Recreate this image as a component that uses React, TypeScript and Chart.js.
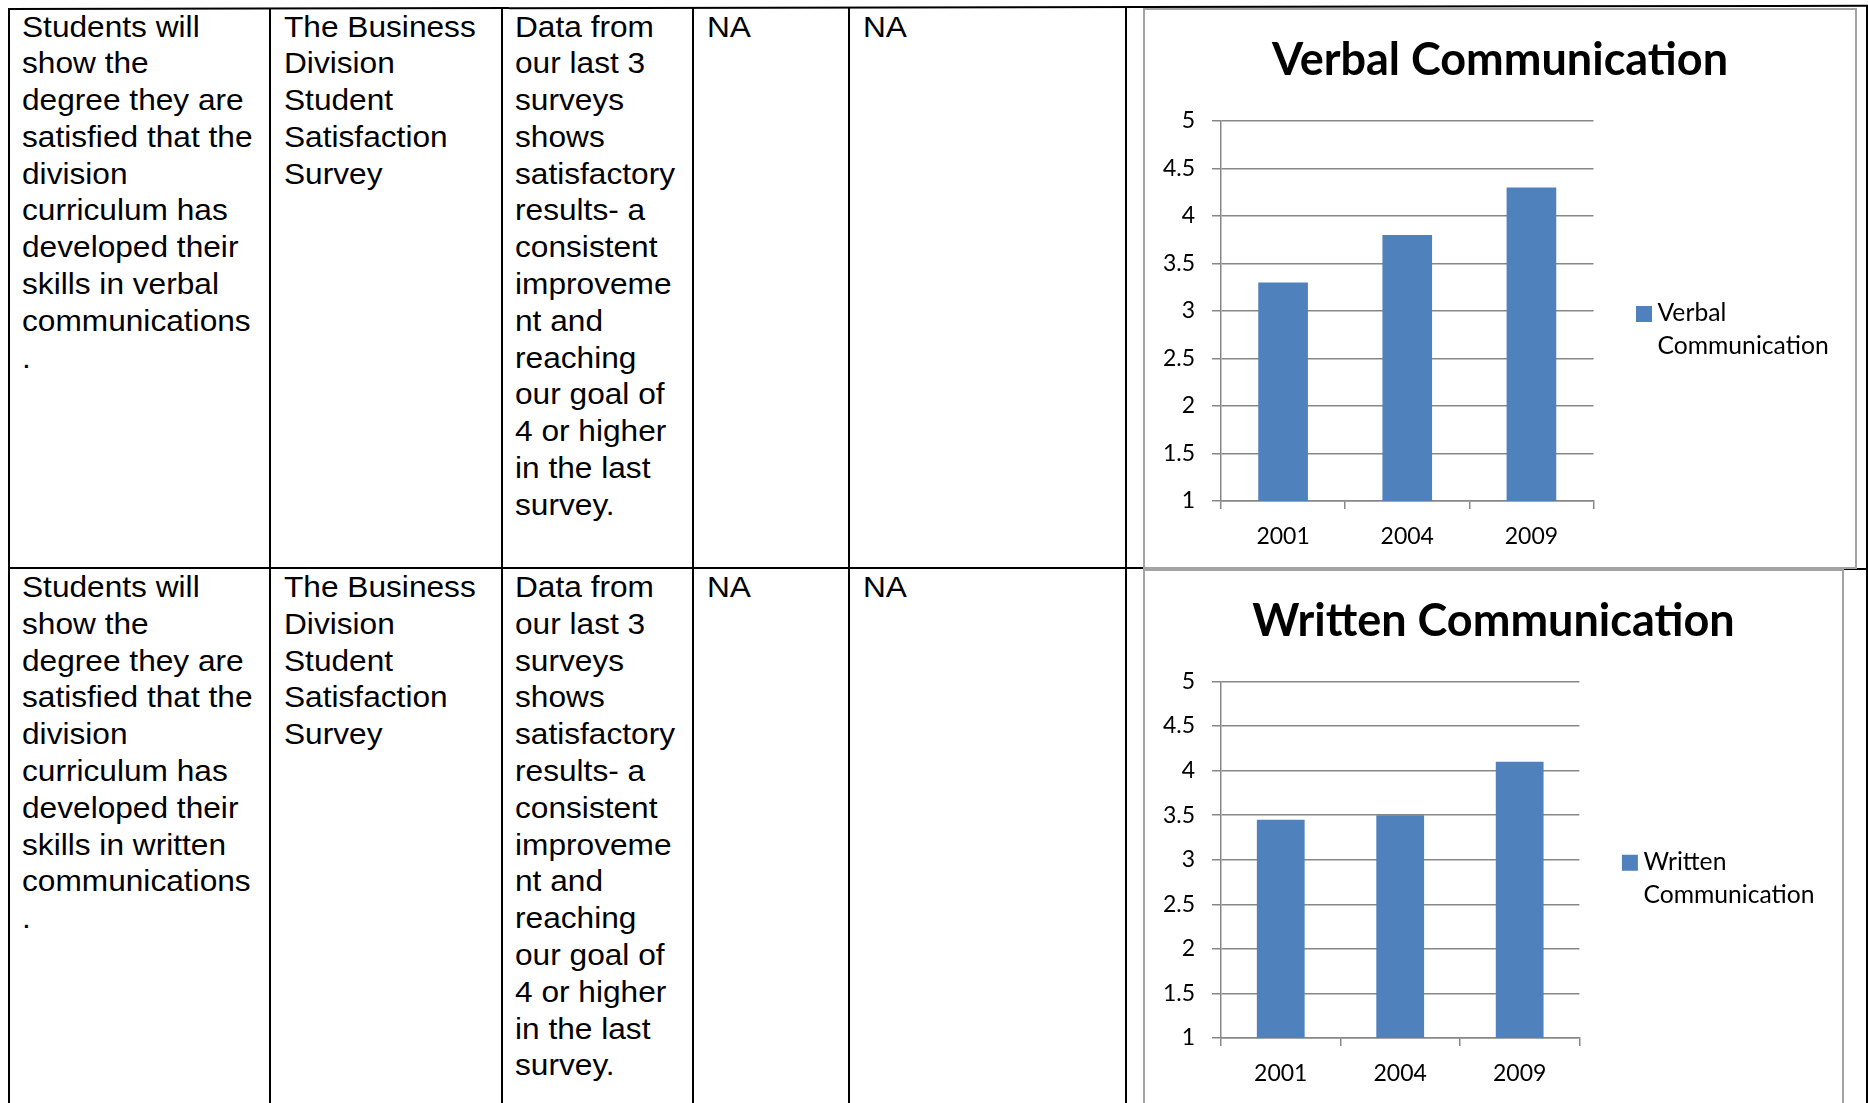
import React, { useEffect, useRef } from "react";
import { Chart, registerables } from "chart.js";

Chart.register(...registerables);

// ---------- chart data ----------
const years = ["2001", "2004", "2009"];
const verbalValues = [3.3, 3.8, 4.3];
const writtenValues = [3.45, 3.5, 4.1];
const yMin = 1;
const yMax = 5;
const yStep = 0.5;
const verbalTitle = "Verbal Communication";
const writtenTitle = "Written Communication";
const verbalLegend = ["Verbal", "Communication"];
const writtenLegend = ["Written", "Communication"];

// ---------- table text ----------
const outcomeVerbal = [
  "Students will",
  "show the",
  "degree they are",
  "satisfied that the",
  "division",
  "curriculum has",
  "developed their",
  "skills in verbal",
  "communications",
  ".",
];
const outcomeWritten = [
  "Students will",
  "show the",
  "degree they are",
  "satisfied that the",
  "division",
  "curriculum has",
  "developed their",
  "skills in written",
  "communications",
  ".",
];
const measureLines = ["The Business", "Division", "Student", "Satisfaction", "Survey"];
const resultLines = [
  "Data from",
  "our last 3",
  "surveys",
  "shows",
  "satisfactory",
  "results- a",
  "consistent",
  "improveme",
  "nt and",
  "reaching",
  "our goal of",
  "4 or higher",
  "in the last",
  "survey.",
];
const naLines = ["NA"];

const BAR = "#4F81BD";
const GRID = "#878787";
const FONT = "Lato, 'Open Sans', sans-serif";
const TITLE_SIZE = 45;
const TICK_SIZE = 23;

type ChartProps = {
  title: string;
  values: number[];
  legend: string[];
  width: number;
  height: number;
  titleCenter: number;
  plotTop: number;
  rightPad: number;
  xAxisHeight: number;
};

function BarChart(p: ChartProps) {
  const ref = useRef<HTMLCanvasElement | null>(null);
  useEffect(() => {
    if (!ref.current) return;
    const legendLines = p.legend;
    const lh = TITLE_SIZE * 1.2;
    const padTop = p.titleCenter - lh / 2;
    const padBottom = p.plotTop - padTop - lh;
    const sideLegend = {
      id: "sideLegend",
      afterDraw(chart: any) {
        const { ctx, chartArea } = chart;
        const x = chartArea.right + 42.5;
        const cy = (chartArea.top + chartArea.bottom) / 2 + 3;
        ctx.save();
        ctx.fillStyle = BAR;
        ctx.fillRect(x, cy - 8, 16, 16);
        ctx.fillStyle = "#000";
        ctx.font = `24.7px ${FONT}`;
        ctx.textAlign = "left";
        ctx.textBaseline = "middle";
        legendLines.forEach((l, i) => ctx.fillText(l, x + 21.5, cy - 1 + i * 33.5));
        ctx.restore();
      },
    };
    const chart = new Chart(ref.current, {
      type: "bar",
      data: {
        labels: years,
        datasets: [
          {
            label: legendLines.join(" "),
            data: p.values,
            backgroundColor: BAR,
            borderWidth: 0,
            barPercentage: 0.4,
            categoryPercentage: 1,
            yAxisID: "y",
          },
        ],
      },
      options: {
        animation: false,
        responsive: false,
        devicePixelRatio: 1,
        layout: { padding: 0 },
        plugins: {
          legend: { display: false },
          tooltip: { enabled: false },
          title: {
            display: true,
            text: p.title,
            color: "#000",
            align: "center",
            font: { family: FONT, weight: "bold", size: TITLE_SIZE, lineHeight: 1.2 },
            padding: { top: padTop, bottom: padBottom },
          },
        },
        scales: {
          x: {
            offset: true,
            grid: {
              offset: true,
              drawOnChartArea: false,
              drawTicks: true,
              tickLength: 8,
              color: GRID,
              lineWidth: 1.5,
            },
            border: { display: true, color: GRID, width: 1.5 },
            ticks: { font: { family: FONT, size: TICK_SIZE }, color: "#000", padding: 13.5 },
            afterFit: (scale: any) => {
              scale.height = p.xAxisHeight;
            },
          },
          y: {
            position: "left",
            min: yMin,
            max: yMax,
            ticks: {
              stepSize: yStep,
              font: { family: FONT, size: TICK_SIZE },
              color: "#000",
              padding: 17,
              callback: (v: any) => String(Number(v)),
            },
            grid: { color: GRID, lineWidth: 1.5, tickLength: 9, drawTicks: true },
            border: { display: true, color: GRID, width: 1.5 },
            afterFit: (scale: any) => {
              scale.width = 76;
            },
          },
          legendSpace: {
            type: "linear",
            position: "right",
            display: true,
            grid: { display: false, drawTicks: false },
            border: { display: false },
            ticks: { display: false },
            afterFit: (scale: any) => {
              scale.width = p.rightPad;
            },
          },
        },
      },
      plugins: [sideLegend],
    });
    return () => chart.destroy();
  }, []);
  return <canvas ref={ref} width={p.width} height={p.height} style={{ display: "block" }} />;
}

const textStyle: React.CSSProperties = {
  position: "absolute",
  fontFamily: "'Liberation Sans', Arial, sans-serif",
  fontSize: 30,
  lineHeight: "36.8px",
  color: "#000",
  whiteSpace: "nowrap",
  transform: "scaleX(1.055)",
  transformOrigin: "left top",
};

function Cell({ x, y, lines }: { x: number; y: number; lines: string[] }) {
  return (
    <div style={{ ...textStyle, left: x, top: y }}>
      {lines.map((l, i) => (
        <div key={i}>{l}</div>
      ))}
    </div>
  );
}

function VLine({ x, y1, y2, color = "#000", w = 2 }: { x: number; y1: number; y2: number; color?: string; w?: number }) {
  return <div style={{ position: "absolute", left: x, top: y1, width: w, height: y2 - y1, background: color }} />;
}
function HLine({ y, x1, x2, color = "#000", h = 2 }: { y: number; x1: number; x2: number; color?: string; h?: number }) {
  return <div style={{ position: "absolute", left: x1, top: y, width: x2 - x1, height: h, background: color }} />;
}

const colX = [8, 269, 501, 692, 848, 1125];
const textX = [22, 283.6, 515, 706.5, 862.5];

export default function App() {
  const rows = [
    { top: 8.5, outcome: outcomeVerbal },
    { top: 569, outcome: outcomeWritten },
  ];
  return (
    <div
      style={{
        position: "fixed",
        left: 0,
        top: 0,
        width: 1868,
        height: 1103,
        overflow: "hidden",
        background: "#fff",
      }}
    >
      <div
        style={{
          position: "absolute",
          left: 8,
          top: 8,
          width: 1860,
          height: 2,
          background: "#000",
          transform: "rotate(-0.1deg)",
          transformOrigin: "left top",
        }}
      />
      {colX.map((x, i) => (
        <VLine key={i} x={x} y1={8} y2={1110} />
      ))}
      <VLine x={1866} y1={5} y2={1110} />
      <HLine y={567} x1={8} x2={1143} />
      <HLine y={568} x1={1843} x2={1868} />

      {rows.map((r, ri) => (
        <React.Fragment key={ri}>
          <Cell x={textX[0]} y={r.top} lines={r.outcome} />
          <Cell x={textX[1]} y={r.top} lines={measureLines} />
          <Cell x={textX[2]} y={r.top} lines={resultLines} />
          <Cell x={textX[3]} y={r.top} lines={naLines} />
          <Cell x={textX[4]} y={r.top} lines={naLines} />
        </React.Fragment>
      ))}

      <div
        style={{
          position: "absolute",
          left: 1143,
          top: 8,
          width: 714,
          height: 561,
          boxSizing: "border-box",
          border: "2px solid #a3a3a3",
          background: "#fff",
        }}
      >
        <BarChart
          title={verbalTitle}
          values={verbalValues}
          legend={verbalLegend}
          width={710}
          height={557}
          titleCenter={50}
          plotTop={111}
          rightPad={261.5}
          xAxisHeight={66}
        />
      </div>

      <div
        style={{
          position: "absolute",
          left: 1143,
          top: 569,
          width: 701,
          height: 537,
          boxSizing: "border-box",
          border: "2px solid #a3a3a3",
          background: "#fff",
        }}
      >
        <BarChart
          title={writtenTitle}
          values={writtenValues}
          legend={writtenLegend}
          width={697}
          height={533}
          titleCenter={50.5}
          plotTop={110.5}
          rightPad={262.6}
          xAxisHeight={66}
        />
      </div>
    </div>
  );
}
